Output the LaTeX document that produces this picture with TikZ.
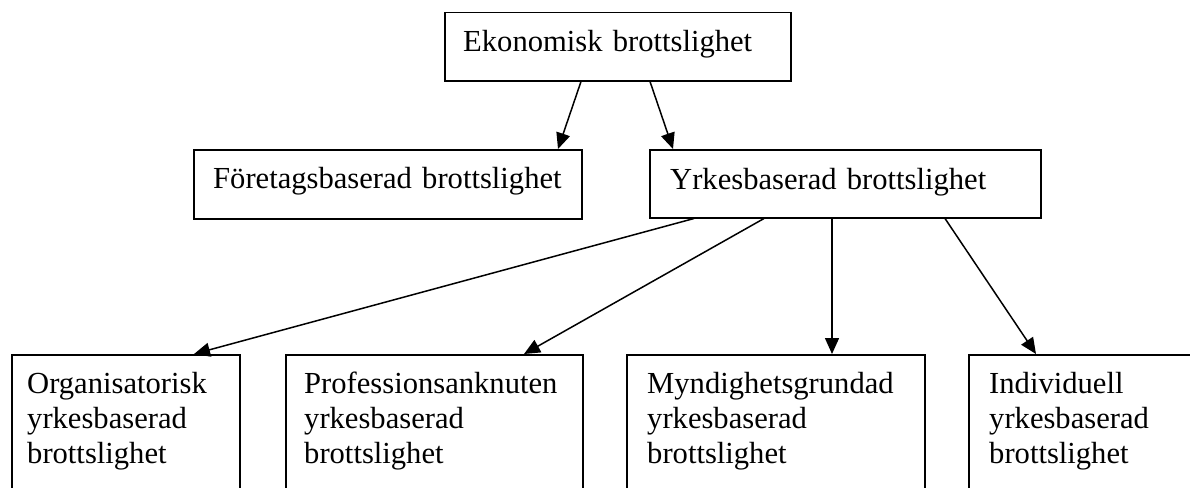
\documentclass[tikz,border=0pt]{standalone}
\usepackage{fontspec}
\setmainfont{Liberation Serif}
\usetikzlibrary{arrows.meta}
\begin{document}
\begin{tikzpicture}[x=1pt,y=-1pt,
  box/.style={draw=black,line width=1.5pt,rectangle,inner sep=0pt,anchor=north west,fill=none},
  txt/.style={inner sep=0pt,anchor=base west,font=\fontsize{30.6}{35.2}\selectfont,text width=600pt,align=left},
  arr/.style={line width=1.5pt,-{Triangle[length=16pt,width=14pt]}}]
\useasboundingbox (0,0) rectangle (1190,487);
\fill[white] (0,0) rectangle (1190,487);
\clip (0,0) rectangle (1190,487);
% boxes
\node[box,minimum width=346pt,minimum height=68pt] (top) at (444,12) {};
\node[box,minimum width=388pt,minimum height=69pt] (fb) at (193,149) {};
\node[box,minimum width=391pt,minimum height=68pt] (yb) at (649,149) {};
\node[box,minimum width=228pt,minimum height=160pt] (b1) at (11,354) {};
\node[box,minimum width=297pt,minimum height=160pt] (b2) at (285,354) {};
\node[box,minimum width=298pt,minimum height=160pt] (b3) at (626,354) {};
\node[box,minimum width=240pt,minimum height=160pt] (b4) at (968,354) {};
% texts
\node[txt] (topt) at (463,52) {Ekonomisk brottslighet};
\node[txt] (fbt) at (213,188) {Företagsbaserad brottslighet};
\node[txt] (ybt) at (670,189) {Yrkesbaserad brottslighet};
\node[txt] (b1t) at (27,393) {Organisatorisk\\yrkesbaserad\\brottslighet};
\node[txt] (b2t) at (304,393) {Professionsanknuten\\yrkesbaserad\\brottslighet};
\node[txt] (b3t) at (647,393) {Myndighetsgrundad\\yrkesbaserad\\brottslighet};
\node[txt] (b4t) at (989,393) {Individuell\\yrkesbaserad\\brottslighet};
% arrows
\draw[arr] ([xshift=137pt]top.south west) -- ([xshift=365pt]fb.north west);
\draw[arr] ([xshift=206pt]top.south west) -- ([xshift=24pt]yb.north west);
\draw[arr] ([xshift=45pt]yb.south west) -- ([xshift=183pt]b1.north west);
\draw[arr] ([xshift=115pt]yb.south west) -- ([xshift=239pt]b2.north west);
\draw[arr] ([xshift=183pt]yb.south west) -- ([xshift=206pt]b3.north west);
\draw[arr] ([xshift=296pt]yb.south west) -- ([xshift=68pt]b4.north west);
\end{tikzpicture}
\end{document}
